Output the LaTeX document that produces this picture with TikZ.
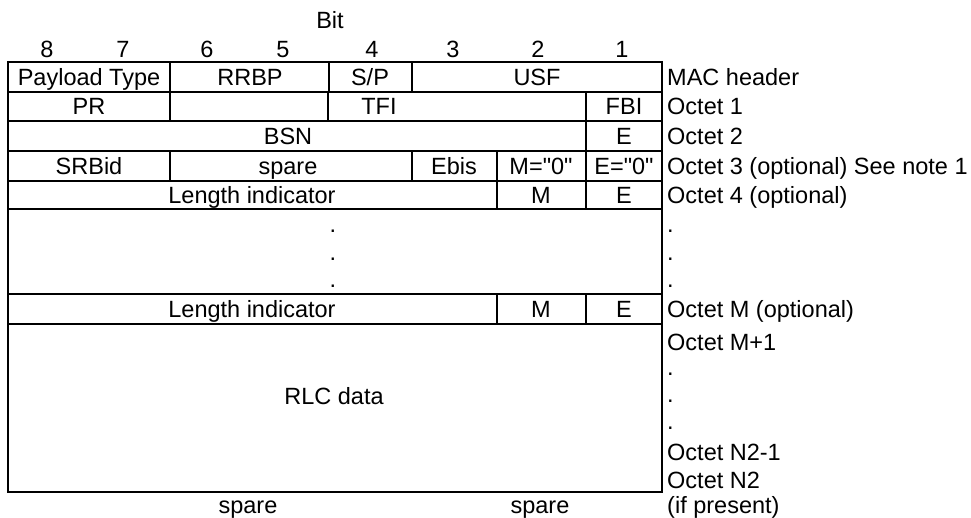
\documentclass[tikz,border=0pt]{standalone}
\usepackage{fontspec}
\setmainfont{Liberation Sans}[Ligatures=TeXOff]
\begin{document}
\begin{tikzpicture}[x=1pt,y=-1pt,
  txt/.style={inner sep=0pt,text height=16.8pt,text depth=0pt,font=\fontsize{23.5}{27}\selectfont},
  lbl/.style={txt,anchor=west},
  grid/.style={line width=2pt},
  thin/.style={line width=1.2pt}]
\useasboundingbox (0,0) rectangle (971,518);
% horizontal lines
\foreach \y in {62,92,121,151,181,209,294,324,492}
  \draw[grid] (8,\y) -- (662,\y);
% outer verticals
\draw[grid] (8,61) -- (8,493);
\draw[grid] (662,61) -- (662,493);
% row 1
\foreach \x in {170,329,412} \draw[grid] (\x,62) -- (\x,92);
% row 2
\draw[grid] (170,92) -- (170,121);
\draw[thin] (328,92) -- (328,121);
\draw[grid] (586,92) -- (586,121);
% row 3
\draw[grid] (586,121) -- (586,151);
% row 4
\foreach \x in {170,412,497,586} \draw[grid] (\x,151) -- (\x,181);
% row 5
\foreach \x in {497,586} \draw[grid] (\x,181) -- (\x,209);
% row 7
\foreach \x in {497,586} \draw[grid] (\x,294) -- (\x,324);

% header
\node[txt] (bit) at (330,20) {Bit};
\node[txt] (b8) at (47,49) {8};
\node[txt] (b7) at (123,49) {7};
\node[txt] (b6) at (207,49) {6};
\node[txt] (b5) at (283,49) {5};
\node[txt] (b4) at (372,49) {4};
\node[txt] (b3) at (453,49) {3};
\node[txt] (b2) at (538,49) {2};
\node[txt] (b1) at (622,49) {1};

% row 1
\node[txt] (pt) at (89,77) {Payload Type};
\node[txt] (rrbp) at (250,77) {RRBP};
\node[txt] (sp) at (370,77) {S/P};
\node[txt] (usf) at (537,77) {USF};
% row 2
\node[txt] (pr) at (89,106.5) {PR};
\node[txt] (tfi) at (379,106.5) {TFI};
\node[txt] (fbi) at (624,106.5) {FBI};
% row 3
\node[txt] (bsn) at (288,136) {BSN};
\node[txt] (e2) at (624,136) {E};
% row 4
\node[txt] (srbid) at (89,166) {SRBid};
\node[txt] (spare4) at (288,166) {spare};
\node[txt] (ebis) at (454,166) {Ebis};
\node[txt] (m0) at (541,166) {M="0"};
\node[txt] (e0) at (624,166) {E="0"};
% row 5
\node[txt] (li1) at (252,195) {Length indicator};
\node[txt] (m1) at (541,195) {M};
\node[txt] (e1) at (624,195) {E};
% dots
\node[txt] (d1) at (333,224) {.};
\node[txt] (d2) at (333,252) {.};
\node[txt] (d3) at (333,279) {.};
% row 7
\node[txt] (li2) at (252,309) {Length indicator};
\node[txt] (m2) at (541,309) {M};
\node[txt] (e3) at (624,309) {E};
% RLC data
\node[txt] (rlc) at (334,396) {RLC data};
% bottom
\node[txt] (sp1) at (248,505) {spare};
\node[txt] (sp2) at (540,505) {spare};

% right labels
\node[lbl] (r0) at (667,77) {MAC header};
\node[lbl] (r1) at (667,106.5) {Octet 1};
\node[lbl] (r2) at (667,136) {Octet 2};
\node[lbl] (r3) at (667,166) {Octet 3 (optional) See note 1};
\node[lbl] (r4) at (667,195) {Octet 4 (optional)};
\node[lbl] (rd1) at (667,224) {.};
\node[lbl] (rd2) at (667,252) {.};
\node[lbl] (rd3) at (667,279) {.};
\node[lbl] (rm) at (667,309) {Octet M (optional)};
\node[lbl] (rm1) at (667,342) {Octet M+1};
\node[lbl] (rd4) at (667,367) {.};
\node[lbl] (rd5) at (667,394) {.};
\node[lbl] (rd6) at (667,421) {.};
\node[lbl] (rn1) at (667,452) {Octet N2-1};
\node[lbl] (rn2) at (667,480) {Octet N2};
\node[lbl] (rip) at (667,505) {(if present)};
\end{tikzpicture}
\end{document}
